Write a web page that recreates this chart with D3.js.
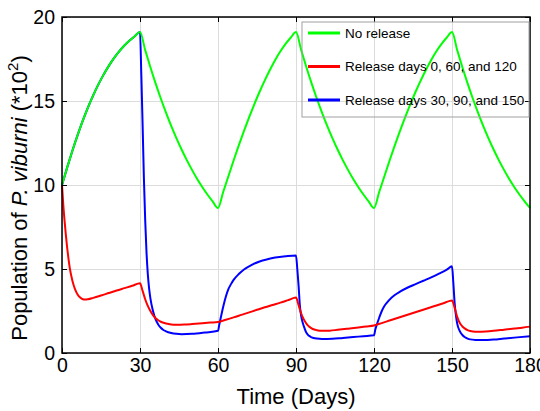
<!DOCTYPE html>
<html>
<head>
<meta charset="utf-8">
<script src="https://cdn.jsdelivr.net/npm/d3@7"></script>
<style>
  body { margin: 0; background: #fff; }
  svg { display: block; font-family: "Liberation Sans", Arial, sans-serif; }
</style>
</head>
<body>
<svg id="chart" width="540" height="411"></svg>
<script>
// tick labels
let xTicks = [0, 30, 60, 90, 120, 150, 180];
let yTicks = [0, 5, 10, 15, 20];

// series names and colours (legend order)
let seriesNames = ["No release", "Release days 0, 60, and 120", "Release days 30, 90, and 150"];
let seriesColors = ["#00ff00", "#ff0000", "#0000ff"];

// No release: read every 2 days
let noReleaseDays = [0, 2, 4, 6, 8, 10, 12, 14, 16, 18, 20, 22, 24, 26, 28, 30,
  32, 34, 36, 38, 40, 42, 44, 46, 48, 50, 52, 54, 56, 58, 60,
  62, 64, 66, 68, 70, 72, 74, 76, 78, 80, 82, 84, 86, 88, 90,
  92, 94, 96, 98, 100, 102, 104, 106, 108, 110, 112, 114, 116, 118, 120,
  122, 124, 126, 128, 130, 132, 134, 136, 138, 140, 142, 144, 146, 148, 150,
  152, 154, 156, 158, 160, 162, 164, 166, 168, 170, 172, 174, 176, 178, 180];
let noReleaseVals = [10, 11.05, 12.04, 12.97, 13.83, 14.62, 15.34, 15.99, 16.57, 17.09, 17.55, 17.95, 18.3, 18.6, 18.86, 19.1,
  18.03, 17.01, 16.05, 15.15, 14.31, 13.52, 12.79, 12.11, 11.48, 10.9, 10.36, 9.87, 9.42, 9.01, 8.63,
  9.58, 10.52, 11.46, 12.36, 13.22, 14.04, 14.82, 15.55, 16.23, 16.86, 17.44, 17.96, 18.4, 18.78, 19.1,
  18.03, 17.01, 16.05, 15.15, 14.31, 13.52, 12.79, 12.11, 11.48, 10.9, 10.36, 9.87, 9.42, 9.01, 8.63,
  9.58, 10.52, 11.46, 12.36, 13.22, 14.04, 14.82, 15.55, 16.23, 16.86, 17.44, 17.96, 18.4, 18.78, 19.1,
  18.03, 17.01, 16.05, 15.15, 14.31, 13.52, 12.79, 12.11, 11.48, 10.9, 10.36, 9.87, 9.42, 9.01, 8.63];

// Release days 0, 60, 120
let release0Days = [0, 0.5, 1, 1.5, 2, 2.5, 3, 4, 5, 6, 7, 8, 9, 10, 12, 15, 18, 21, 24, 27, 30,
  31, 32, 33, 34, 35, 36, 37, 38, 40, 42, 44, 47, 50, 54, 57, 60,
  63, 66, 69, 72, 75, 78, 81, 84, 87, 90,
  91, 92, 93, 94, 95, 96, 97, 98, 100, 103, 106, 110, 114, 117, 120,
  123, 126, 129, 132, 135, 138, 141, 144, 147, 150,
  151, 152, 153, 154, 155, 156, 157, 158, 160, 163, 166, 170, 174, 177, 180];
let release0Vals = [10, 8.8, 7.85, 7.0, 6.25, 5.6, 5.05, 4.3, 3.8, 3.48, 3.3, 3.2, 3.18, 3.2, 3.28, 3.42, 3.57, 3.72, 3.86, 4.0, 4.15,
  3.7, 3.2, 2.8, 2.5, 2.25, 2.07, 1.95, 1.86, 1.76, 1.7, 1.68, 1.69, 1.72, 1.77, 1.81, 1.85,
  1.98, 2.12, 2.27, 2.42, 2.57, 2.72, 2.86, 3.0, 3.15, 3.3,
  2.85, 2.35, 2.0, 1.75, 1.58, 1.47, 1.4, 1.36, 1.32, 1.33, 1.38, 1.45, 1.52, 1.58, 1.64,
  1.78, 1.93, 2.08, 2.23, 2.38, 2.53, 2.68, 2.83, 2.98, 3.13,
  2.7, 2.15, 1.78, 1.58, 1.45, 1.36, 1.31, 1.28, 1.26, 1.28, 1.32, 1.39, 1.46, 1.51, 1.57];

// Release days 30, 90, 150
let release30Days = [0, 2, 4, 6, 8, 10, 12, 14, 16, 18, 20, 22, 24, 26, 28, 30,
  30.5, 31, 31.5, 32, 32.5, 33, 33.5, 34, 35, 36, 37, 38, 39, 40, 42, 44, 46, 50, 55, 60,
  60.5, 61, 62, 63, 64, 65, 66, 68, 70, 73, 76, 79, 82, 86, 90,
  90.5, 91, 91.5, 92, 92.5, 93, 94, 95, 96, 98, 100, 104, 108, 112, 116, 120,
  120.5, 121, 122, 123, 124, 125, 126, 128, 130, 133, 136, 139, 142, 145, 148, 150,
  150.5, 151, 151.5, 152, 153, 154, 155, 156, 157, 159, 162, 166, 170, 175, 180];
let release30Vals = [10, 11.05, 12.04, 12.97, 13.83, 14.62, 15.34, 15.99, 16.57, 17.09, 17.55, 17.95, 18.3, 18.6, 18.86, 19.1,
  16.6, 13.6, 10.4, 7.9, 6.0, 4.7, 3.85, 3.25, 2.5, 2.0, 1.7, 1.5, 1.37, 1.29, 1.19, 1.14, 1.12, 1.14, 1.22, 1.32,
  1.7, 2.05, 2.75, 3.35, 3.8, 4.1, 4.35, 4.7, 4.97, 5.25, 5.45, 5.58, 5.68, 5.76, 5.81,
  5.0, 4.0, 2.8, 2.2, 1.85, 1.6, 1.2, 1.02, 0.93, 0.86, 0.84, 0.85, 0.9, 0.95, 1.0, 1.05,
  1.4, 1.65, 2.1, 2.5, 2.8, 3.0, 3.18, 3.45, 3.65, 3.9, 4.1, 4.3, 4.5, 4.72, 4.96, 5.16,
  4.2, 3.0, 2.25, 1.75, 1.3, 1.07, 0.94, 0.86, 0.81, 0.78, 0.77, 0.8, 0.86, 0.93, 0.99];

let svg = d3.select("#chart");
let plotLeft = 62, plotRight = 530, plotTop = 17, plotBottom = 353;

let x = d3.scaleLinear().domain([0, 180]).range([plotLeft, plotRight]);
let y = d3.scaleLinear().domain([0, 20]).range([plotBottom, plotTop]);

// grid
svg.append("g")
  .attr("transform", `translate(0,${plotBottom})`)
  .call(d3.axisBottom(x).tickValues(xTicks).tickSize(-(plotBottom - plotTop)).tickFormat(""))
  .call(g => g.select(".domain").remove())
  .call(g => g.selectAll("line").attr("stroke", "#dcdcdc"));
svg.append("g")
  .attr("transform", `translate(${plotLeft},0)`)
  .call(d3.axisLeft(y).tickValues(yTicks).tickSize(-(plotRight - plotLeft)).tickFormat(""))
  .call(g => g.select(".domain").remove())
  .call(g => g.selectAll("line").attr("stroke", "#dcdcdc"));

// lines (blue first so green sits on top for days 0-30)
let line = d3.line().x(d => x(d[0])).y(d => y(d[1])).curve(d3.curveMonotoneX);
let seriesData = [
  d3.zip(noReleaseDays, noReleaseVals),
  d3.zip(release0Days, release0Vals),
  d3.zip(release30Days, release30Vals)
];
[2, 1, 0].forEach(i => {
  svg.append("path")
    .attr("d", line(seriesData[i]))
    .attr("fill", "none")
    .attr("stroke", seriesColors[i])
    .attr("stroke-width", 2);
});

// axes with inward ticks
let fontSize = "19.5px";
svg.append("g")
  .attr("transform", `translate(0,${plotBottom})`)
  .call(d3.axisBottom(x).tickValues(xTicks).tickSize(-5).tickSizeOuter(0).tickPadding(5))
  .call(g => g.select(".domain").remove())
  .call(g => g.selectAll("text").attr("font-size", fontSize).attr("fill", "#000").attr("font-family", null));
svg.append("g")
  .attr("transform", `translate(${plotLeft},0)`)
  .call(d3.axisLeft(y).tickValues(yTicks).tickSize(-5).tickSizeOuter(0).tickPadding(7))
  .call(g => g.select(".domain").remove())
  .call(g => g.selectAll("text").attr("font-size", fontSize).attr("fill", "#000").attr("font-family", null));
svg.append("g")
  .attr("transform", `translate(0,${plotTop})`)
  .call(d3.axisTop(x).tickValues(xTicks).tickSize(-5).tickSizeOuter(0).tickFormat(""))
  .call(g => g.select(".domain").remove());
svg.append("g")
  .attr("transform", `translate(${plotRight},0)`)
  .call(d3.axisRight(y).tickValues(yTicks).tickSize(-5).tickSizeOuter(0).tickFormat(""))
  .call(g => g.select(".domain").remove());

// frame
svg.append("rect")
  .attr("x", plotLeft).attr("y", plotTop)
  .attr("width", plotRight - plotLeft).attr("height", plotBottom - plotTop)
  .attr("fill", "none").attr("stroke", "#000").attr("stroke-width", 1.5);

// axis titles
svg.append("text")
  .attr("x", (plotLeft + plotRight) / 2).attr("y", 404)
  .attr("text-anchor", "middle")
  .attr("font-size", "22px")
  .text("Time (Days)");

let yTitle = svg.append("text")
  .attr("transform", `translate(27,${(plotTop + plotBottom) / 2 + 13}) rotate(-90)`)
  .attr("text-anchor", "middle")
  .attr("font-size", "22px");
yTitle.append("tspan").text("Population of ");
yTitle.append("tspan").attr("font-style", "italic").text("P. viburni");
yTitle.append("tspan").text("  (*10");
yTitle.append("tspan").attr("font-size", "15px").attr("dy", -9).text("2");
yTitle.append("tspan").attr("dy", 9).text(")");

// legend
let legend = svg.append("g");
legend.append("rect")
  .attr("x", 302).attr("y", 22).attr("width", 227).attr("height", 95)
  .attr("fill", "none").attr("stroke", "#a0a0a0").attr("stroke-width", 1);
seriesNames.forEach((name, i) => {
  let ly = 33 + i * 33.5;
  legend.append("line")
    .attr("x1", 308).attr("x2", 340).attr("y1", ly).attr("y2", ly)
    .attr("stroke", seriesColors[i]).attr("stroke-width", 3);
  legend.append("text")
    .attr("x", 345).attr("y", ly).attr("dy", "0.36em")
    .attr("font-size", "13.5px")
    .text(name);
});
</script>
</body>
</html>
